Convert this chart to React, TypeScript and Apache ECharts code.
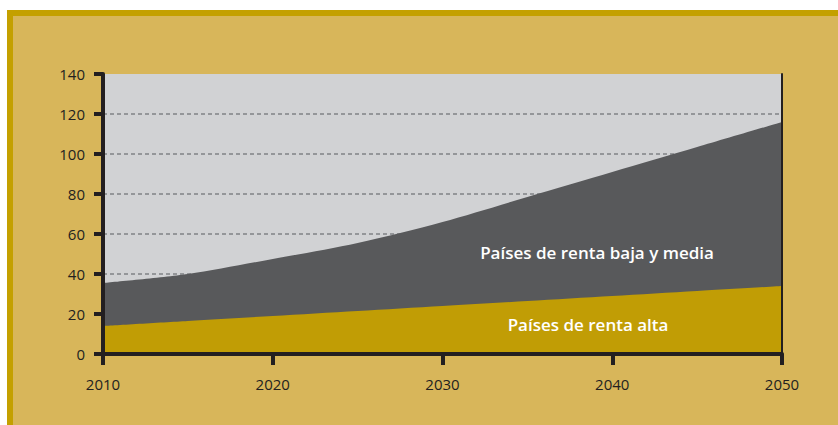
import React, { useEffect, useRef } from "react";
import * as echarts from "echarts";

const years = [2010, 2015, 2020, 2025, 2030, 2035, 2040, 2045, 2050];
const rentaAlta = [14, 16.5, 19, 21.5, 24, 26.5, 29, 31.5, 34];
const total = [35.5, 40, 47.5, 55.5, 66, 78.5, 91, 103.5, 116];
const xTicks = [2010, 2020, 2030, 2040, 2050];
const labelBaja = "Países de renta baja y media";
const labelAlta = "Países de renta alta";

export default function App() {
  const ref = useRef<HTMLDivElement>(null);
  useEffect(() => {
    if (!ref.current) return;
    const chart = echarts.init(ref.current, null, { renderer: "svg" });
    const font = "'Open Sans', 'DejaVu Sans', sans-serif";
    const yBase = { type: "value", min: 0, max: 140, interval: 20 };
    chart.setOption({
      animation: false,
      textStyle: { fontFamily: font },
      grid: {
        left: 103,
        right: 56,
        top: 74,
        bottom: 71,
        show: true,
        backgroundColor: "#d1d2d4",
        borderWidth: 0,
      },
      xAxis: [
        {
          type: "value",
          min: 2010,
          max: 2050,
          interval: 10,
          axisLine: { show: true, lineStyle: { color: "#231f20", width: 4 } },
          axisTick: { show: true, length: 11, lineStyle: { color: "#231f20", width: 4 } },
          axisLabel: {
            color: "#231f20",
            fontSize: 15,
            margin: 22,
            fontFamily: font,
            formatter: (v: number) => (xTicks.includes(v) ? String(v) : ""),
          },
          splitLine: { show: false },
          z: 10,
        },
        {
          type: "value",
          position: "top",
          min: 2010,
          max: 2050,
          interval: 10,
          axisLine: { show: true, lineStyle: { color: "#231f20", width: 3 } },
          axisTick: { show: false },
          axisLabel: { show: false },
          splitLine: { show: false },
          z: 10,
        },
      ],
      yAxis: [
        {
          ...yBase,
          position: "left",
          axisLine: { show: false },
          axisTick: { show: false },
          axisLabel: { show: false },
          splitLine: {
            show: true,
            showMinLine: false,
            showMaxLine: false,
            lineStyle: { color: "#808285", width: 1.5, type: [4, 3] },
          },
          z: 0,
        },
        {
          ...yBase,
          position: "left",
          axisLine: { show: true, lineStyle: { color: "#231f20", width: 4 } },
          axisTick: { show: true, length: 9, lineStyle: { color: "#231f20", width: 4 } },
          axisLabel: { color: "#231f20", fontSize: 15, margin: 18, fontFamily: font },
          splitLine: { show: false },
          z: 10,
        },
        {
          ...yBase,
          position: "right",
          axisLine: { show: true, lineStyle: { color: "#231f20", width: 2 } },
          axisTick: { show: false },
          axisLabel: { show: false },
          splitLine: { show: false },
          z: 10,
        },
      ],
      series: [
        {
          name: labelBaja,
          type: "line",
          yAxisIndex: 0,
          data: years.map((y, i) => [y, total[i]]),
          smooth: 0.3,
          showSymbol: false,
          lineStyle: { width: 0 },
          areaStyle: { color: "#58595b", opacity: 1 },
          z: 2,
        },
        {
          name: labelAlta,
          type: "line",
          yAxisIndex: 0,
          data: years.map((y, i) => [y, rentaAlta[i]]),
          smooth: 0.3,
          showSymbol: false,
          lineStyle: { width: 0 },
          areaStyle: { color: "#c19d05", opacity: 1 },
          z: 3,
        },
      ],
      graphic: [
        {
          type: "text",
          x: 597,
          y: 252,
          style: {
            text: labelBaja,
            fill: "#ffffff",
            font: `600 17px ${font}`,
            textAlign: "center",
            textVerticalAlign: "middle",
          },
          z: 100,
        },
        {
          type: "text",
          x: 588,
          y: 324,
          style: {
            text: labelAlta,
            fill: "#ffffff",
            font: `600 17px ${font}`,
            textAlign: "center",
            textVerticalAlign: "middle",
          },
          z: 100,
        },
      ],
    });
    return () => chart.dispose();
  }, []);
  return (
    <div style={{ position: "fixed", left: 0, top: 0, width: 838, height: 425, background: "#ffffff", overflow: "hidden" }}>
      <div
        style={{
          position: "absolute",
          left: 7,
          top: 10,
          width: 860,
          height: 440,
          background: "#d8b65a",
          borderTop: "6px solid #c4a000",
          borderLeft: "6px solid #c4a000",
        }}
      />
      <div ref={ref} style={{ position: "absolute", left: 0, top: 0, width: 838, height: 425 }} />
    </div>
  );
}
